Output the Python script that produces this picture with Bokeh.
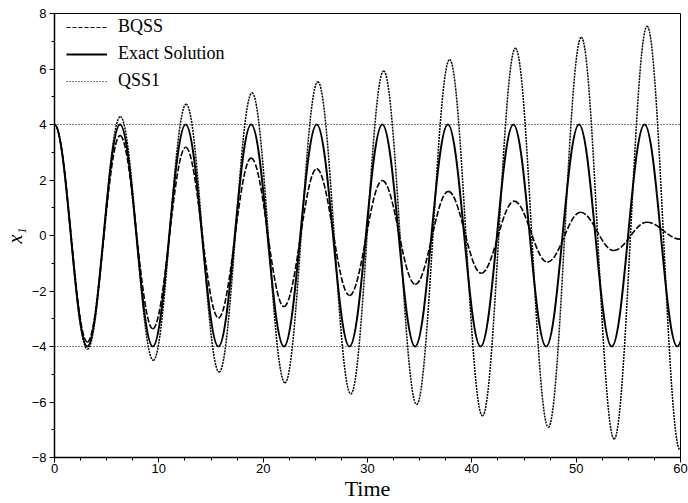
from bokeh.plotting import figure
from bokeh.models import Span, Legend, LegendItem, FixedTicker, ColumnDataSource
from bokeh.embed import file_html
from bokeh.resources import INLINE

# Turning points (local extrema) of each trajectory
exact_t = [0, 3.14, 6.28, 9.42, 12.57, 15.71, 18.85, 21.99, 25.13, 28.27, 31.42,
           34.56, 37.70, 40.84, 43.98, 47.12, 50.27, 53.41, 56.55, 59.69, 62.83]
exact_x1 = [4, -4, 4, -4, 4, -4, 4, -4, 4, -4, 4,
            -4, 4, -4, 4, -4, 4, -4, 4, -4, 4]

qss1_t = [0, 3.16, 6.31, 9.47, 12.62, 15.78, 18.93, 22.09, 25.24, 28.40, 31.55,
          34.71, 37.87, 41.02, 44.18, 47.33, 50.49, 53.64, 56.80, 59.95, 63.11]
qss1_x1 = [4.0, -4.1, 4.28, -4.5, 4.73, -4.92, 5.14, -5.31, 5.54, -5.71, 5.93,
           -6.09, 6.34, -6.5, 6.75, -6.91, 7.14, -7.33, 7.54, -7.72, 7.9]

bqss_t = [0, 3.14, 6.28, 9.42, 12.57, 15.71, 18.85, 21.99, 25.13, 28.27, 31.42,
          34.58, 37.74, 40.9, 44.06, 47.24, 50.42, 53.6, 56.78, 59.95]
bqss_x1 = [4.0, -3.84, 3.60, -3.36, 3.18, -2.97, 2.79, -2.56, 2.40, -2.16, 1.98,
           -1.76, 1.59, -1.36, 1.24, -0.96, 0.84, -0.54, 0.48, -0.13]

ref_levels = [4, -4]
x_major = [0, 10, 20, 30, 40, 50, 60]
y_major = [-8, -6, -4, -2, 0, 2, 4, 6, 8]

A = 0.3634  # handle fraction giving a sinusoidal arc between turning points


def arcs(ts, ys):
    d = dict(x0=[], y0=[], x1=[], y1=[], cx0=[], cy0=[], cx1=[], cy1=[])
    for i in range(len(ts) - 1):
        h = ts[i + 1] - ts[i]
        d["x0"].append(ts[i]); d["y0"].append(ys[i])
        d["x1"].append(ts[i + 1]); d["y1"].append(ys[i + 1])
        d["cx0"].append(ts[i] + A * h); d["cy0"].append(ys[i])
        d["cx1"].append(ts[i + 1] - A * h); d["cy1"].append(ys[i + 1])
    return ColumnDataSource(d)


p = figure(width=688, height=503, output_backend="svg", toolbar_location=None,
           x_range=(0, 60), y_range=(-8, 8),
           min_border_left=53, min_border_right=8, min_border_top=13, min_border_bottom=46)
p.xgrid.visible = False
p.ygrid.visible = False
p.outline_line_color = "black"
p.outline_line_width = 1

for v in ref_levels:
    p.add_layout(Span(location=v, dimension="width", line_color="black",
                      line_width=1, line_dash="1 2"))

bz = dict(x0="x0", y0="y0", x1="x1", y1="y1", cx0="cx0", cy0="cy0", cx1="cx1", cy1="cy1")
p.bezier(source=arcs(bqss_t, bqss_x1), line_color="black", line_width=1.6, line_dash="6 2", **bz)
p.bezier(source=arcs(exact_t, exact_x1), line_color="black", line_width=2, **bz)
p.bezier(source=arcs(qss1_t, qss1_x1), line_color="black", line_width=1.5, line_dash="2 1", **bz)

# legend proxies (kept outside the visible x range)
l1 = p.line(x=[-20, -10], y=[0, 0], line_color="black", line_width=1.2, line_dash="4 2")
l2 = p.line(x=[-20, -10], y=[0, 0], line_color="black", line_width=1.8)
l3 = p.line(x=[-20, -10], y=[0, 0], line_color="black", line_width=1.2, line_dash="1 2")

leg = Legend(items=[LegendItem(label="BQSS", renderers=[l1]),
                    LegendItem(label="Exact Solution", renderers=[l2]),
                    LegendItem(label="QSS1", renderers=[l3])],
             location=(12, 366), padding=2, margin=0, spacing=6,
             label_height=20, glyph_height=20, glyph_width=41, label_standoff=11,
             label_text_font="Liberation Serif", label_text_font_size="18px",
             label_text_color="black",
             border_line_color=None, background_fill_alpha=0)
p.add_layout(leg)

p.xaxis.ticker = FixedTicker(ticks=x_major, minor_ticks=[i * 2.5 for i in range(25)])
p.yaxis.ticker = FixedTicker(ticks=y_major, minor_ticks=list(range(-8, 9)))
for ax in (p.xaxis[0], p.yaxis[0]):
    ax.major_tick_in = 0
    ax.major_tick_out = 5
    ax.minor_tick_in = 0
    ax.minor_tick_out = 3
    ax.axis_line_width = 1.5
    ax.major_tick_line_width = 1
    ax.minor_tick_line_width = 1
    ax.major_label_text_font = "Liberation Sans"
    ax.major_label_text_font_size = "13px"
    ax.major_label_text_color = "black"
    ax.axis_label_text_font = "Liberation Serif"
    ax.axis_label_text_color = "black"
p.xaxis.axis_label = "Time"
p.xaxis.axis_label_text_font_size = "22px"
p.xaxis.axis_label_text_font_style = "normal"
p.xaxis.axis_label_standoff = 0
p.xaxis.major_label_standoff = 1
p.yaxis.axis_label = "x₁"
p.yaxis.axis_label_text_font_size = "20px"
p.yaxis.axis_label_text_font_style = "italic"
p.yaxis.axis_label_standoff = 3
p.yaxis.major_label_standoff = 3

open("out.html", "w").write(file_html(p, INLINE))
